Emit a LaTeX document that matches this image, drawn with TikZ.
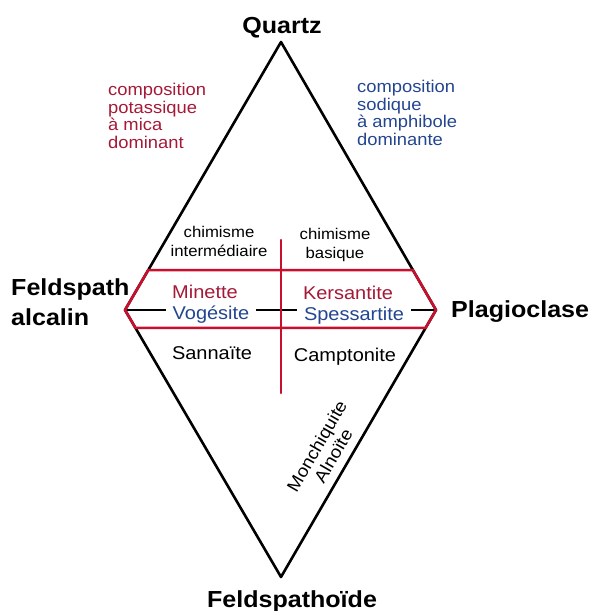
\documentclass[tikz,border=0pt]{standalone}
\usepackage{fontspec}
\setmainfont[FakeStretch=1.08]{Liberation Sans}
\usetikzlibrary{calc}
\definecolor{hexred}{RGB}{200,16,46}
\definecolor{txtred}{RGB}{165,25,55}
\definecolor{txtblue}{RGB}{35,70,145}

\begin{document}
\begin{tikzpicture}[x=1pt,y=-1pt,line cap=round,line join=round,
  pole/.style={font=\fontsize{23.2}{30}\selectfont\bfseries,inner sep=0pt},
  rock/.style={font=\fontsize{18.5}{20.5}\selectfont},
  chem/.style={font=\fontsize{15.5}{18.5}\selectfont,align=center,inner sep=0pt},
  note/.style={font=\fontsize{17}{17.5}\selectfont,align=left,inner sep=0pt,anchor=north west},
  gap/.style={rock,fill=white,inner xsep=7pt,inner ysep=1pt}]
\useasboundingbox (0,0) rectangle (591,611);
% poles of the diamond
\coordinate (q) at (281,42);
\coordinate (fa) at (125,310);
\coordinate (pl) at (436,310);
\coordinate (fd) at (281,577);
\coordinate (hul) at ($(fa)!0.149!(q)$);
\coordinate (hur) at ($(pl)!0.149!(q)$);
\coordinate (hll) at ($(fa)!0.067!(fd)$);
\coordinate (hlr) at ($(pl)!0.067!(fd)$);
\coordinate (vt) at (281,240);
\coordinate (vb) at (281,393);
\draw[line width=2.6pt] (q) -- (pl) -- (fd) -- (fa) -- cycle;
\draw[line width=2.4pt] (fa) -- (pl);
\node[gap,text=txtblue,anchor=base] (voge) at (211,319) {Vogésite};
\node[gap,text=txtblue,anchor=base] (spes) at (354,320) {Spessartite};
% red field of the lamprophyres
\draw[hexred,line width=2.6pt] (hul) -- (hur) -- (pl) -- (hlr) -- (hll) -- (fa) -- cycle;
\draw[hexred,line width=2.6pt] (vt) -- (vb);
\node[rock,text=txtred,anchor=base] (mine) at (205,298) {Minette};
\node[rock,text=txtred,anchor=base] (kers) at (348,299) {Kersantite};
\node[rock,anchor=base] (sann) at (212,359) {Sannaïte};
\node[rock,anchor=base] (camp) at (345,361) {Camptonite};
\node[chem,anchor=base] (inter) at (219,256) {chimisme\\intermédiaire};
\node[chem,anchor=base] (basi) at (335,258) {chimisme\\basique};
\node[rock,font=\fontsize{17.5}{19}\selectfont,rotate=60,align=center,inner sep=0pt] (monc) at (325,451) {Monchiquite\\Alnoïte};
% labels of the poles
\node[pole,anchor=base] (quartz) at (282,33) {Quartz};
\node[pole,align=left,anchor=north west] (feld) at (11,278) {Feldspath\\alcalin};
\node[pole,anchor=base west] (plag) at (451,317) {Plagioclase};
\node[pole,anchor=base] (foid) at (292,607) {Feldspathoïde};
% compositions
\node[note,text=txtred] (pota) at (108,83) {composition\\potassique\\à mica\\dominant};
\node[note,text=txtblue] (sodi) at (357,80) {composition\\sodique\\à amphibole\\dominante};
\end{tikzpicture}
\end{document}
